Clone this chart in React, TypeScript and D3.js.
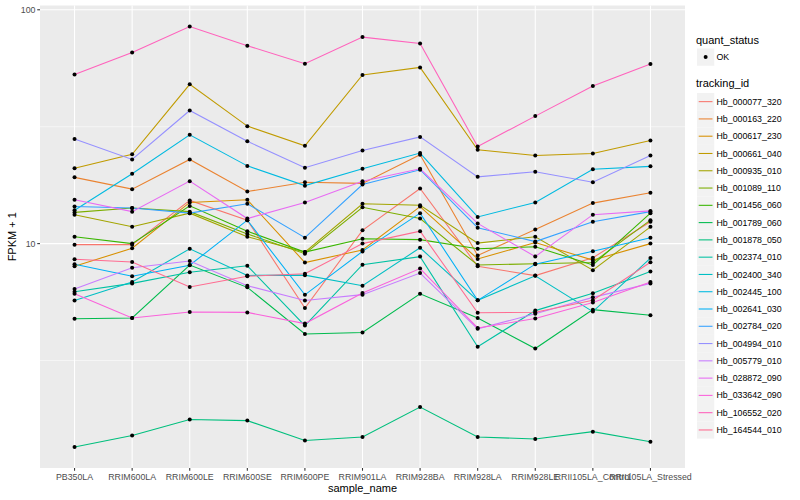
import React from "react";
import * as d3 from "d3";

const samples = [
  "PB350LA", "RRIM600LA", "RRIM600LE", "RRIM600SE", "RRIM600PE", "RRIM901LA",
  "RRIM928BA", "RRIM928LA", "RRIM928LE", "RRII105LA_Control", "RRII105LA_Stressed",
];

const trackingIds = [
  "Hb_000077_320", "Hb_000163_220", "Hb_000617_230", "Hb_000661_040", "Hb_000935_010",
  "Hb_001089_110", "Hb_001456_060", "Hb_001789_060", "Hb_001878_050", "Hb_002374_010",
  "Hb_002400_340", "Hb_002445_100", "Hb_002641_030", "Hb_002784_020", "Hb_004994_010",
  "Hb_005779_010", "Hb_028872_090", "Hb_033642_090", "Hb_106552_020", "Hb_164544_010",
];

const colors = [
  "#F8766D", "#EA8331", "#D89000", "#C09B00", "#A3A500", "#7CAE00", "#39B600", "#00BB4E",
  "#00BF7D", "#00C1A3", "#00BFC4", "#00BAE0", "#00B0F6", "#35A2FF", "#9590FF", "#C77CFF",
  "#E76BF3", "#FA62DB", "#FF62BC", "#FF6C91",
];

// FPKM + 1 per sample
const hb_000077_320 = [9.9, 9.9, 15.3, 12.6, 5.3, 11.4, 17.2, 8.0, 7.3, 8.7, 12.4];
const hb_000163_220 = [19.2, 17.1, 22.9, 16.7, 18.3, 18.1, 24.0, 8.9, 11.5, 14.9, 16.5];
const hb_000617_230 = [8.0, 9.55, 15.0, 15.4, 8.3, 9.4, 14.4, 8.6, 10.1, 8.5, 10.0];
const hb_000661_040 = [21.0, 24.1, 48.0, 31.8, 26.2, 52.6, 56.7, 25.2, 23.8, 24.3, 27.6];
const hb_000935_010 = [13.3, 11.8, 13.5, 10.7, 9.2, 14.8, 14.6, 10.05, 10.7, 7.7, 11.8];
const hb_001089_110 = [13.6, 14.2, 13.7, 11.0, 9.06, 14.3, 12.8, 8.1, 8.2, 8.3, 12.6];
const hb_001456_060 = [10.7, 10.0, 14.5, 11.3, 9.2, 10.5, 10.4, 9.5, 9.7, 8.1, 13.5];
const hb_001789_060 = [4.77, 4.81, 8.1, 6.5, 4.11, 4.17, 6.1, 4.81, 3.56, 5.22, 4.94];
const hb_001878_050 = [1.35, 1.51, 1.77, 1.75, 1.44, 1.49, 2.0, 1.49, 1.46, 1.57, 1.42];
const hb_002374_010 = [6.22, 6.76, 7.55, 8.04, 4.46, 8.13, 8.8, 3.62, 5.17, 6.14, 7.59];
const hb_002400_340 = [5.71, 6.85, 9.5, 7.31, 7.33, 6.61, 9.6, 5.72, 7.28, 5.12, 8.67];
const hb_002445_100 = [13.9, 19.9, 29.2, 21.5, 17.7, 20.9, 24.4, 13.0, 15.0, 20.8, 21.4];
const hb_002641_030 = [8.16, 7.25, 8.08, 12.6, 6.04, 9.26, 13.5, 5.72, 8.17, 9.27, 10.6];
const hb_002784_020 = [14.4, 14.2, 13.5, 14.8, 10.6, 17.9, 20.7, 11.7, 10.2, 12.4, 13.7];
const hb_004994_010 = [28.0, 22.9, 37.1, 27.4, 21.1, 25.0, 28.6, 19.3, 20.3, 18.3, 23.8];
const hb_005779_010 = [6.4, 7.88, 8.42, 6.61, 5.71, 6.05, 7.48, 4.32, 5.01, 5.89, 6.76];
const hb_028872_090 = [15.4, 13.7, 18.5, 12.8, 15.0, 18.5, 20.9, 12.2, 8.8, 13.3, 13.8];
const hb_033642_090 = [6.11, 4.81, 5.1, 5.08, 4.55, 6.15, 7.82, 4.36, 4.78, 5.6, 6.85];
const hb_106552_020 = [52.9, 65.7, 84.8, 70.2, 58.8, 76.4, 71.8, 26.0, 35.1, 47.2, 58.6];
const hb_164544_010 = [8.57, 8.35, 6.52, 7.25, 7.43, 10.0, 11.3, 5.06, 5.09, 5.73, 8.32];

const seriesValues = [
  hb_000077_320, hb_000163_220, hb_000617_230, hb_000661_040, hb_000935_010,
  hb_001089_110, hb_001456_060, hb_001789_060, hb_001878_050, hb_002374_010,
  hb_002400_340, hb_002445_100, hb_002641_030, hb_002784_020, hb_004994_010,
  hb_005779_010, hb_028872_090, hb_033642_090, hb_106552_020, hb_164544_010,
];

const yMajor = [10, 100];
const yMajorLabels = ["10", "100"];
const yMinor = [Math.sqrt(10), Math.sqrt(1000)];

const FONT = "'Liberation Sans', Arial, Helvetica, sans-serif";

export default function App() {
  const W = 800, H = 500;
  const left = 40, right = 685, top = 5.5, bottom = 468;

  const allVals = seriesValues.flat();
  const lo = Math.log10(d3.min(allVals) as number);
  const hi = Math.log10(d3.max(allVals) as number);
  const pad = (hi - lo) * 0.05;
  const y = d3.scaleLog().domain([Math.pow(10, lo - pad), Math.pow(10, hi + pad)]).range([bottom, top]);
  const x = d3.scalePoint<string>().domain(samples).range([left, right]).padding(0.6);

  const line = d3.line<number>()
    .x((_, i) => x(samples[i]) as number)
    .y((v) => y(v));

  const legendX = 697;
  const keyH = 17.28;
  const trackTop = 93;

  return (
    <svg width={W} height={H} style={{ position: "absolute", left: 0, top: 0, background: "#fff" }}
      fontFamily={FONT}>
      <rect x={0} y={0} width={W} height={H} fill="#fff" />
      <rect x={left} y={top} width={right - left} height={bottom - top} fill="#EBEBEB" />
      {yMinor.map((v, i) => (
        <line key={"mn" + i} x1={left} x2={right} y1={y(v)} y2={y(v)} stroke="#fff" strokeWidth={0.53} />
      ))}
      {yMajor.map((v, i) => (
        <line key={"mj" + i} x1={left} x2={right} y1={y(v)} y2={y(v)} stroke="#fff" strokeWidth={1.07} />
      ))}
      {samples.map((s) => (
        <line key={"vx" + s} x1={x(s)} x2={x(s)} y1={top} y2={bottom} stroke="#fff" strokeWidth={1.07} />
      ))}
      {seriesValues.map((vals, i) => (
        <path key={"ln" + i} d={line(vals) as string} fill="none" stroke={colors[i]} strokeWidth={1.07} />
      ))}
      {seriesValues.map((vals, i) =>
        vals.map((v, j) => (
          <circle key={"pt" + i + "_" + j} cx={x(samples[j])} cy={y(v)} r={2} fill="#000" />
        ))
      )}
      {/* y axis */}
      {yMajor.map((v, i) => (
        <g key={"yt" + i}>
          <line x1={left - 2.75} x2={left} y1={y(v)} y2={y(v)} stroke="#333" strokeWidth={1.07} />
          <text x={left - 4.5} y={y(v)} dy="0.35em" textAnchor="end" fontSize={8.8} fill="#4D4D4D">
            {yMajorLabels[i]}
          </text>
        </g>
      ))}
      {/* x axis */}
      {samples.map((s) => (
        <g key={"xt" + s}>
          <line x1={x(s)} x2={x(s)} y1={bottom} y2={bottom + 2.75} stroke="#333" strokeWidth={1.07} />
          <text x={x(s)} y={bottom + 12} textAnchor="middle" fontSize={8.8} fill="#4D4D4D">{s}</text>
        </g>
      ))}
      <text x={(left + right) / 2} y={492} textAnchor="middle" fontSize={11} fill="#000">sample_name</text>
      <text transform={`translate(15.5,${(top + bottom) / 2}) rotate(-90)`} textAnchor="middle" fontSize={11} fill="#000">
        FPKM + 1
      </text>
      {/* legend: quant_status */}
      <text x={696} y={44} fontSize={11} fill="#000">quant_status</text>
      <rect x={legendX} y={48.5} width={17.28} height={17.28} fill="#F2F2F2" />
      <circle cx={legendX + 8.64} cy={57.1} r={2} fill="#000" />
      <text x={716.5} y={57.1} dy="0.35em" fontSize={8.8} fill="#000">OK</text>
      {/* legend: tracking_id */}
      <text x={696} y={87} fontSize={11} fill="#000">tracking_id</text>
      {trackingIds.map((id, i) => {
        const cy = trackTop + i * keyH + keyH / 2;
        return (
          <g key={"lg" + id}>
            <rect x={legendX} y={trackTop + i * keyH} width={17.28} height={keyH} fill="#F2F2F2" />
            <line x1={legendX + 1.7} x2={legendX + 15.5} y1={cy} y2={cy} stroke={colors[i]} strokeWidth={1.07} />
            <text x={716.5} y={cy} dy="0.35em" fontSize={8.8} fill="#000">{id}</text>
          </g>
        );
      })}
    </svg>
  );
}
